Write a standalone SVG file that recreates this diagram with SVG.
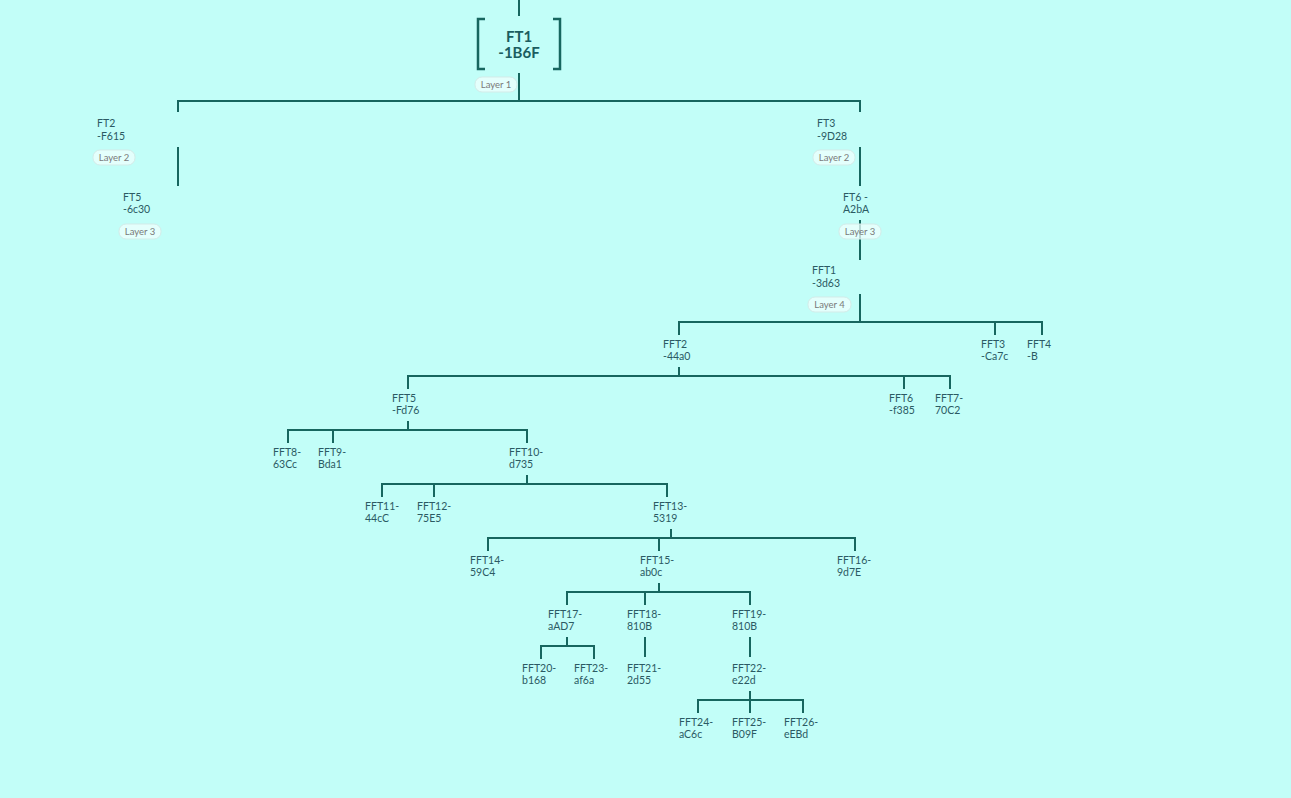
<svg xmlns="http://www.w3.org/2000/svg" width="1291" height="798" viewBox="0 0 1291 798">
<style>
.bg{fill:#c2fef8}
.ln{stroke:#17665f;stroke-width:2;fill:none}
.t{font-family:Lato,"Noto Sans","DejaVu Sans",sans-serif;font-size:10.5px;fill:#2b5a63}
.root{font-family:Lato,"Noto Sans","DejaVu Sans",sans-serif;font-size:15px;font-weight:bold;fill:#1b5d60;text-anchor:middle}
.pill{fill:#effffd;fill-opacity:0.75;stroke:#d3ebe8;stroke-width:1}
.pt{font-family:Lato,"Noto Sans","DejaVu Sans",sans-serif;font-size:9.5px;fill:#7a7a7a;text-anchor:middle}
.br{stroke:#17665f;stroke-width:2.5;fill:none}
</style>
<rect class="bg" x="0" y="0" width="1291" height="798"/>
<g id="connectors">
<path class="ln" d="M519 0V16"/>
<path class="ln" d="M519 73V101M178 112V101H860V112"/>
<path class="ln" d="M178 147V186"/>
<path class="ln" d="M860 147V186"/>
<path class="ln" d="M860 220V260"/>
<path class="ln" d="M860 294V322M679 335V322H1042V335M995 322V335"/>
<path class="ln" d="M679 367V376M408 389V376H950V389M904 376V389"/>
<path class="ln" d="M408 421V430M288 443V430H527V443M333 430V443"/>
<path class="ln" d="M527 475V484M382 497V484H667V497M434 484V497"/>
<path class="ln" d="M671 529V538M488 551V538H855V551M659 538V551"/>
<path class="ln" d="M659 583V592M567 605V592H750V605M645 592V605"/>
<path class="ln" d="M567 637V646M541 659V646H594V659"/>
<path class="ln" d="M645 637V657"/>
<path class="ln" d="M750 637V657"/>
<path class="ln" d="M750 691V700M698 713V700H803V713M750 700V713"/>
</g>
<g id="FT1">
<path class="br" d="M485 19H478V69H485"/>
<path class="br" d="M553 19H560V69H553"/>
<text class="root" x="519" y="42">FT1</text>
<text class="root" x="519" y="58">-1B6F</text>
<rect class="pill" x="475" y="77" width="42" height="15" rx="7"/>
<text class="pt" x="496" y="88">Layer 1</text>
</g>
<g id="FT2">
<text class="t" x="97" y="127">FT2</text>
<text class="t" x="97" y="140">-F615</text>
<rect class="pill" x="93" y="150" width="42" height="15" rx="7"/>
<text class="pt" x="114" y="161">Layer 2</text>
</g>
<g id="FT5">
<text class="t" x="123" y="201">FT5</text>
<text class="t" x="123" y="213">-6c30</text>
<rect class="pill" x="119" y="224" width="42" height="15" rx="7"/>
<text class="pt" x="140" y="235">Layer 3</text>
</g>
<g id="FT3">
<text class="t" x="817" y="127">FT3</text>
<text class="t" x="817" y="140">-9D28</text>
<rect class="pill" x="813" y="150" width="42" height="15" rx="7"/>
<text class="pt" x="834" y="161">Layer 2</text>
</g>
<g id="FT6">
<text class="t" x="843" y="201">FT6 -</text>
<text class="t" x="843" y="213">A2bA</text>
<rect class="pill" x="839" y="224" width="42" height="15" rx="7"/>
<text class="pt" x="860" y="235">Layer 3</text>
</g>
<g id="FFT1">
<text class="t" x="812" y="274">FFT1</text>
<text class="t" x="812" y="287">-3d63</text>
<rect class="pill" x="808" y="297" width="43" height="15" rx="7"/>
<text class="pt" x="829.5" y="308">Layer 4</text>
</g>
<g id="FFT2"><text class="t" x="663" y="348">FFT2</text><text class="t" x="663" y="360">-44a0</text></g>
<g id="FFT3"><text class="t" x="981" y="348">FFT3</text><text class="t" x="981" y="360">-Ca7c</text></g>
<g id="FFT4"><text class="t" x="1027" y="348">FFT4</text><text class="t" x="1027" y="360">-B</text></g>
<g id="FFT5"><text class="t" x="392" y="402">FFT5</text><text class="t" x="392" y="414">-Fd76</text></g>
<g id="FFT6"><text class="t" x="889" y="402">FFT6</text><text class="t" x="889" y="414">-f385</text></g>
<g id="FFT7"><text class="t" x="935" y="402">FFT7-</text><text class="t" x="935" y="414">70C2</text></g>
<g id="FFT8"><text class="t" x="273" y="456">FFT8-</text><text class="t" x="273" y="468">63Cc</text></g>
<g id="FFT9"><text class="t" x="318" y="456">FFT9-</text><text class="t" x="318" y="468">Bda1</text></g>
<g id="FFT10"><text class="t" x="509" y="456">FFT10-</text><text class="t" x="509" y="468">d735</text></g>
<g id="FFT11"><text class="t" x="365" y="510">FFT11-</text><text class="t" x="365" y="522">44cC</text></g>
<g id="FFT12"><text class="t" x="417" y="510">FFT12-</text><text class="t" x="417" y="522">75E5</text></g>
<g id="FFT13"><text class="t" x="653" y="510">FFT13-</text><text class="t" x="653" y="522">5319</text></g>
<g id="FFT14"><text class="t" x="470" y="564">FFT14-</text><text class="t" x="470" y="576">59C4</text></g>
<g id="FFT15"><text class="t" x="640" y="564">FFT15-</text><text class="t" x="640" y="576">ab0c</text></g>
<g id="FFT16"><text class="t" x="837" y="564">FFT16-</text><text class="t" x="837" y="576">9d7E</text></g>
<g id="FFT17"><text class="t" x="548" y="618">FFT17-</text><text class="t" x="548" y="630">aAD7</text></g>
<g id="FFT18"><text class="t" x="627" y="618">FFT18-</text><text class="t" x="627" y="630">810B</text></g>
<g id="FFT19"><text class="t" x="732" y="618">FFT19-</text><text class="t" x="732" y="630">810B</text></g>
<g id="FFT20"><text class="t" x="522" y="672">FFT20-</text><text class="t" x="522" y="684">b168</text></g>
<g id="FFT23"><text class="t" x="574" y="672">FFT23-</text><text class="t" x="574" y="684">af6a</text></g>
<g id="FFT21"><text class="t" x="627" y="672">FFT21-</text><text class="t" x="627" y="684">2d55</text></g>
<g id="FFT22"><text class="t" x="732" y="672">FFT22-</text><text class="t" x="732" y="684">e22d</text></g>
<g id="FFT24"><text class="t" x="679" y="726">FFT24-</text><text class="t" x="679" y="738">aC6c</text></g>
<g id="FFT25"><text class="t" x="732" y="726">FFT25-</text><text class="t" x="732" y="738">B09F</text></g>
<g id="FFT26"><text class="t" x="784" y="726">FFT26-</text><text class="t" x="784" y="738">eEBd</text></g>
</svg>
